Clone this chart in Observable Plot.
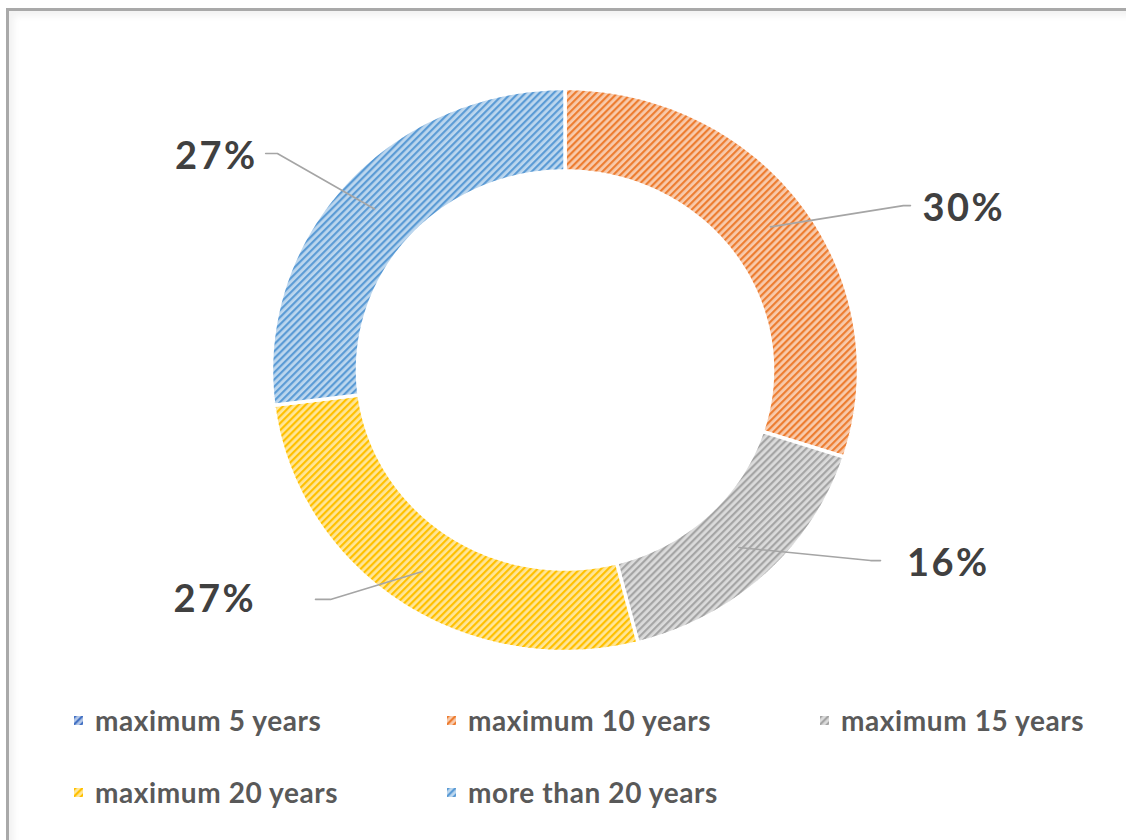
<!DOCTYPE html>
<html>
<head>
<meta charset="utf-8">
<script src="https://cdn.jsdelivr.net/npm/d3@7"></script>
<script src="https://cdn.jsdelivr.net/npm/@observablehq/plot@0.6"></script>
<style>
  html, body { margin: 0; padding: 0; background: #fff; width: 1126px; height: 840px; overflow: hidden; }
  #frame {
    position: absolute; left: 6px; top: 8px; width: 1140px; height: 850px;
    border-left: 3px solid #a9a9a9; border-top: 3px solid #a9a9a9;
    box-shadow: inset 5px 5px 6px rgba(0,0,0,0.05);
  }
  #chart { position: absolute; left: 10px; top: 12px; }
  #legend {
    position: absolute; left: 74px; top: 700px;
    display: grid; grid-template-columns: 373px 373px 300px; grid-auto-rows: 40px; row-gap: 32px;
    font-family: Lato, "Open Sans", sans-serif; font-weight: 700; font-size: 28px; letter-spacing: 0.6px; color: #595959;
  }
  .item { display: flex; align-items: center; white-space: nowrap; }
  .item svg { margin-right: 12px; flex: none; }
</style>
</head>
<body>
<div id="frame"></div>
<div id="chart"></div>
<div id="legend"></div>
<script>
// Tenure categories and their shares (%)
const categories = ["maximum 5 years", "maximum 10 years", "maximum 15 years", "maximum 20 years", "more than 20 years"];
const shares = [0, 30, 16, 27, 27];
const palette = ["#4472C4", "#ED7D31", "#A5A5A5", "#FFC000", "#5B9BD5"];

// Where each data label and the bend of its leader line sit (ring units, outer radius = 1)
const labelLayout = {
  "maximum 10 years":   {elbow: [1.153, 0.584], end: [1.177, 0.584], text: [1.218, 0.572], side: "right"},
  "maximum 15 years":   {elbow: [1.041, -0.677], end: [1.075, -0.677], text: [1.165, -0.688], side: "right"},
  "maximum 20 years":   {elbow: [-0.799, -0.815], end: [-0.850, -0.815], text: [-1.052, -0.818], side: "left"},
  "more than 20 years": {elbow: [-0.980, 0.769], end: [-1.020, 0.769], text: [-1.047, 0.758], side: "left"}
};

const OUTER = 1, INNER = 0.707;
const patternId = (i) => `hatch-${i}`;

const rows = categories.map((category, i) => ({category, share: shares[i], fill: `url(#${patternId(i)})`}));
const arcs = d3.pie().sort(null).value((d) => d.share)(rows);

// Convert angle (clockwise from 12 o'clock) and radius to x/y
const polar = (a, r) => [r * Math.sin(a), r * Math.cos(a)];

// Ring segments as closed outlines
const segments = [];
for (const arc of arcs) {
  if (arc.data.share <= 0) continue;
  const n = Math.max(8, Math.ceil((arc.endAngle - arc.startAngle) / 0.01));
  const pts = [];
  for (let k = 0; k <= n; ++k) pts.push(polar(arc.startAngle + (arc.endAngle - arc.startAngle) * k / n, OUTER));
  for (let k = n; k >= 0; --k) pts.push(polar(arc.startAngle + (arc.endAngle - arc.startAngle) * k / n, INNER));
  pts.push(pts[0]);
  for (const [x, y] of pts) segments.push({category: arc.data.category, fill: arc.data.fill, x, y});
}

// Leader lines from the middle of each segment to its label
const leaders = [];
const labels = [];
for (const arc of arcs) {
  const L = labelLayout[arc.data.category];
  if (!L || arc.data.share <= 0) continue;
  const mid = (arc.startAngle + arc.endAngle) / 2;
  const [sx, sy] = polar(mid, 0.865);
  leaders.push({category: arc.data.category, x: sx, y: sy});
  leaders.push({category: arc.data.category, x: L.elbow[0], y: L.elbow[1]});
  leaders.push({category: arc.data.category, x: L.end[0], y: L.end[1]});
  labels.push({category: arc.data.category, text: `${arc.data.share}%`, x: L.text[0], y: L.text[1], side: L.side});
}

const cx = 554.5, cy = 357.5, rx = 293.5, ry = 281.5;
const labelStyle = {fontSize: 38, fontWeight: 700, fill: "#404040", style: "letter-spacing: 2.5px"};

const chart = Plot.plot({
  width: 1116,
  height: 680,
  axis: null,
  x: {domain: [-1, 1], range: [cx - rx, cx + rx]},
  y: {domain: [-1, 1], range: [cy + ry, cy - ry]},
  style: {fontFamily: "Lato, 'Open Sans', sans-serif", background: "transparent", overflow: "visible"},
  marks: [
    Plot.line(segments, {x: "x", y: "y", z: "category", fill: "fill", stroke: "white", strokeWidth: 3.5, strokeLinejoin: "miter", curve: "linear"}),
    Plot.line(leaders, {x: "x", y: "y", z: "category", stroke: "#a5a5a5", strokeWidth: 1.6}),
    Plot.text(labels.filter((d) => d.side === "right"), {x: "x", y: "y", text: "text", textAnchor: "start", fontSize: labelStyle.fontSize, fontWeight: labelStyle.fontWeight, fill: labelStyle.fill, className: "pct"}),
    Plot.text(labels.filter((d) => d.side === "left"), {x: "x", y: "y", text: "text", textAnchor: "end", fontSize: labelStyle.fontSize, fontWeight: labelStyle.fontWeight, fill: labelStyle.fill, className: "pct"})
  ]
});

// Wider tracking on the percentage labels
d3.select(chart).selectAll(".pct text").style("letter-spacing", "2.5px");

// Hatch fills: tinted ground with diagonal strokes in the series colour
const defs = d3.select(chart).insert("defs", ":first-child");
palette.forEach((c, i) => {
  const tint = d3.interpolateRgb(c, "#ffffff")(0.6);
  const p = defs.append("pattern")
    .attr("id", patternId(i))
    .attr("patternUnits", "userSpaceOnUse")
    .attr("width", 5).attr("height", 5)
    .attr("patternTransform", "rotate(45)");
  p.append("rect").attr("width", 5).attr("height", 5).attr("fill", tint);
  p.append("rect").attr("x", 0).attr("width", 2.2).attr("height", 5).attr("fill", c);
});

document.getElementById("chart").append(chart);

// Legend below the ring
const legend = d3.select("#legend");
rows.forEach((d, i) => {
  const item = legend.append("div").attr("class", "item");
  const sw = item.append("svg").attr("width", 9).attr("height", 9);
  sw.append("rect").attr("width", 9).attr("height", 9).attr("fill", d.fill);
  item.append("span").text(d.category);
});
</script>
</body>
</html>
